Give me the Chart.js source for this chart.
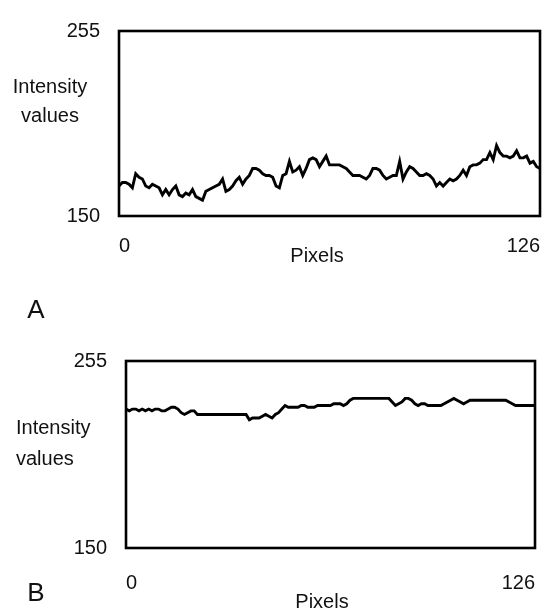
<!DOCTYPE html>
<html><head><meta charset="utf-8">
<script src="https://cdn.jsdelivr.net/npm/chart.js@4.4.1/dist/chart.umd.min.js"></script>
<style>
html,body{margin:0;padding:0;background:#fff;width:558px;height:613px;overflow:hidden}
.wrap{position:absolute;left:0;width:558px}
</style></head><body>
<div class="wrap" style="top:0;height:330px"><canvas id="ca" width="558" height="330"></canvas></div>
<div class="wrap" style="top:330px;height:283px"><canvas id="cb" width="558" height="283"></canvas></div>
<script>
// Intensity profile along 127 pixels (index 0..126)
const intensityA = [167,169,169,168,166,174,172,171,167,166,168,167,166,162,165,162,165,167,162,161,
  163,162,165,161,160,159,164,165,166,167,168,171,164,165,167,170,172,168,171,173,
  177,177,176,174,173,173,172,167,166,173,174,181,175,176,178,173,177,182,183,182,
  178,181,184,179,179,179,179,178,177,175,173,173,173,172,171,173,177,177,176,173,
  171,172,173,173,181,171,175,178,177,175,173,173,174,173,171,167,169,167,169,171,
  170,171,173,176,173,178,179,179,180,182,182,186,182,190,186,184,184,183,184,187,
  183,183,184,180,181,178,177];
const intensityB = [228,227,228,228,227,228,227,228,227,228,228,227,227,228,229,229,228,226,225,226,
  227,227,225,225,225,225,225,225,225,225,225,225,225,225,225,225,225,225,222,223,
  223,223,224,225,224,223,225,226,228,230,229,229,229,229,230,230,229,229,229,230,
  230,230,230,230,231,231,231,230,231,233,234,234,234,234,234,234,234,234,234,234,
  234,234,232,230,231,232,234,234,233,231,230,231,231,230,230,230,230,230,231,232,
  233,234,233,232,231,232,233,233,233,233,233,233,233,233,233,233,233,233,232,231,
  230,230,230,230,230,230,230];
const xTickValues = [0, 126];
const yTickValues = [150, 255];
const yAxisTitle = ['Intensity', 'values'];
const xAxisTitle = 'Pixels';
const panelLabels = ['A', 'B'];

const FONT = '"Liberation Sans", Arial, Helvetica, sans-serif';
const INK = '#111';

const decor = {
  id: 'decor',
  afterDatasetsDraw(chart, args, o) {
    const {ctx, chartArea: a} = chart;
    ctx.save();
    ctx.strokeStyle = '#000';
    ctx.lineWidth = 2.6;
    ctx.strokeRect(a.left, a.top, a.right - a.left, a.bottom - a.top);
    ctx.fillStyle = INK;
    ctx.textBaseline = 'middle';
    (o.texts || []).forEach(t => {
      ctx.font = t.font;
      ctx.textAlign = t.align;
      ctx.fillText(t.s, t.x, t.y);
    });
    ctx.restore();
  }
};

function makeChart(id, values, o) {
  return new Chart(document.getElementById(id), {
    type: 'line',
    data: {
      datasets: [{
        data: values.map((v, i) => ({x: i, y: v})),
        borderColor: '#000',
        borderWidth: 2.9,
        pointRadius: 0,
        tension: 0,
        fill: false
      }]
    },
    options: {
      responsive: false,
      animation: false,
      devicePixelRatio: 1,
      layout: {autoPadding: false, padding: {left: 0, right: o.padR, top: o.padT, bottom: 0}},
      plugins: {
        legend: {display: false},
        tooltip: {enabled: false},
        decor: {texts: o.texts}
      },
      scales: {
        x: {
          type: 'linear', min: 0, max: 126,
          afterBuildTicks: s => { s.ticks = xTickValues.map(v => ({value: v})); },
          afterFit: s => { s.height = o.xH; },
          grid: {display: false, drawTicks: false},
          border: {display: false},
          ticks: {font: {family: FONT, size: 20}, color: INK, padding: o.xPad, align: 'inner',
                  maxRotation: 0, autoSkip: false}
        },
        y: {
          type: 'linear', min: 150, max: 255,
          afterBuildTicks: s => { s.ticks = yTickValues.map(v => ({value: v})); },
          afterFit: s => { s.width = o.yW; },
          grid: {display: false, drawTicks: false},
          border: {display: false},
          ticks: {font: {family: FONT, size: 20}, color: INK, padding: 19, autoSkip: false}
        }
      }
    },
    plugins: [decor]
  });
}

const f20 = '20px ' + FONT;
const f25 = '500 26px ' + FONT;

makeChart('ca', intensityA, {
  padR: 16, padT: 12, xH: 114, yW: 119, xPad: 18,
  texts: [
    {s: yAxisTitle[0], x: 50, y: 87, align: 'center', font: f20},
    {s: yAxisTitle[1], x: 50, y: 116, align: 'center', font: f20},
    {s: xAxisTitle, x: 317, y: 256, align: 'center', font: f20},
    {s: panelLabels[0], x: 36, y: 311, align: 'center', font: f25}
  ]
});

makeChart('cb', intensityB, {
  padR: 16, padT: 15, xH: 65, yW: 126, xPad: 23,
  texts: [
    {s: yAxisTitle[0], x: 16, y: 98, align: 'left', font: f20},
    {s: yAxisTitle[1], x: 16, y: 129, align: 'left', font: f20},
    {s: xAxisTitle, x: 322, y: 272, align: 'center', font: f20},
    {s: panelLabels[1], x: 36, y: 264, align: 'center', font: f25}
  ]
});
</script>
</body></html>
